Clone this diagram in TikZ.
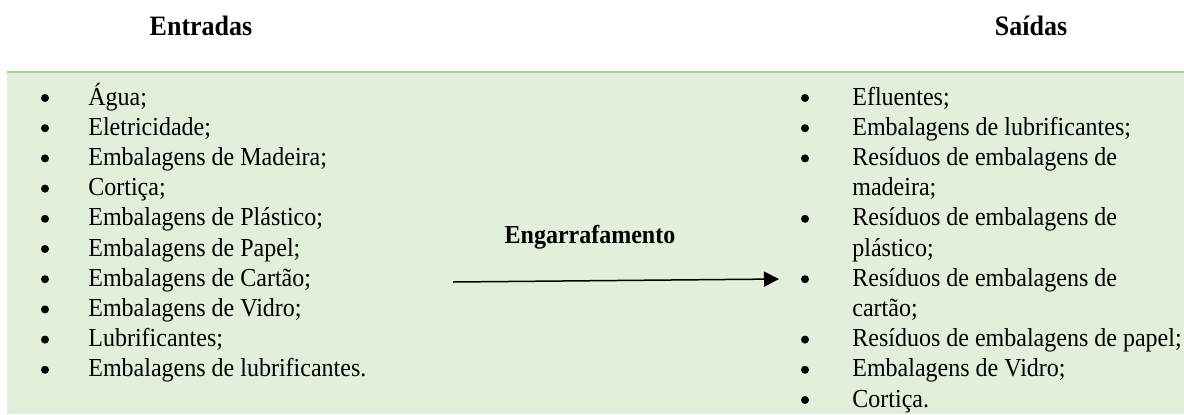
\documentclass[tikz,border=0pt]{standalone}
\usepackage{fontspec}
\setmainfont{Liberation Serif}
\usetikzlibrary{arrows.meta}
\definecolor{panelfill}{HTML}{E2EFDA}
\definecolor{panelline}{HTML}{A9D08E}
\newcommand{\vstretch}[1]{\scalebox{1}[1.08]{#1}}
\begin{document}
\begin{tikzpicture}[x=0.5pt,y=-0.5pt,
  txt/.style={font=\fontsize{12pt}{14pt}\selectfont, inner sep=0pt, anchor=base west},
  bul/.style={circle, fill=black, inner sep=0pt, minimum size=4pt},
  head/.style={font=\fontsize{13pt}{15pt}\selectfont\bfseries, inner sep=0pt, anchor=base},
  proc/.style={font=\fontsize{12pt}{14pt}\selectfont\bfseries, inner sep=0pt, anchor=base},
  flow/.style={line width=0.75pt, -{Triangle[length=7.5pt,width=7.5pt]}}]
\useasboundingbox (0,0) rectangle (1184,414);
\fill[panelfill] (7,72) rectangle (1184,414);
\draw[panelline, line width=1pt] (7,72) -- (1184,72);
% headings
\node[head] (hin) at (201,35) {\vstretch{Entradas}};
\node[head] (hout) at (1031,35) {\vstretch{Saídas}};
\node[proc] (proc) at (590,243) {\vstretch{Engarrafamento}};
% left list
\foreach \t [count=\i from 0] in {Água;,Eletricidade;,Embalagens de Madeira;,Cortiça;,Embalagens de Plástico;,Embalagens de Papel;,Embalagens de Cartão;,Embalagens de Vidro;,Lubrificantes;,Embalagens de lubrificantes.}{
  \node[bul] (lb\i) at (45,98+30.2*\i) {};
  \node[txt] (lt\i) at (88,105+30.2*\i) {\vstretch{\t}};
}
% right list
\foreach \t [count=\i from 0] in {Efluentes;,Embalagens de lubrificantes;,Resíduos de embalagens de,madeira;,Resíduos de embalagens de,plástico;,Resíduos de embalagens de,cartão;,Resíduos de embalagens de papel;,Embalagens de Vidro;,Cortiça.}{
  \node[txt] (rt\i) at (852,105+30.2*\i) {\vstretch{\t}};
}
\foreach \i in {0,1,2,4,6,8,9,10}{
  \node[bul] (rb\i) at (805,98+30.2*\i) {};
}
% arrow
\coordinate (astart) at (453,282);
\coordinate (aend) at (779,279);
\draw[flow] (astart) -- (aend);
\end{tikzpicture}
\end{document}
